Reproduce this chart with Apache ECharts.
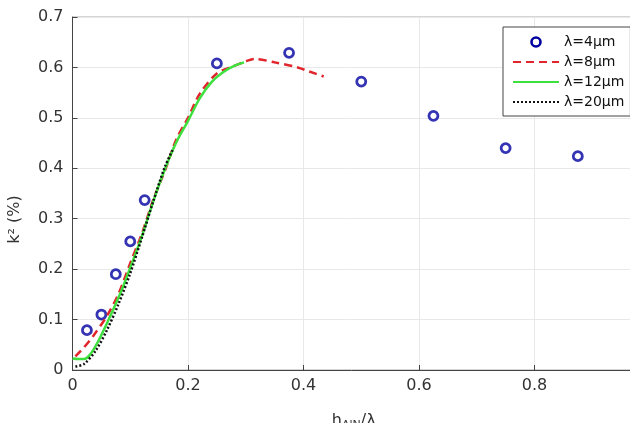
<!DOCTYPE html>
<html>
<head>
<meta charset="utf-8">
<script src="https://cdn.jsdelivr.net/npm/echarts@6/dist/echarts.min.js"></script>
<style>html,body{margin:0;padding:0;background:#fff;}#c{width:630px;height:423px;}</style>
</head>
<body>
<div id="c"></div>
<script>
// λ = 4 µm (circles)
const x4 = [0.025, 0.05, 0.075, 0.1, 0.125, 0.25, 0.375, 0.5, 0.625, 0.75, 0.875];
const y4 = [0.079, 0.110, 0.190, 0.255, 0.337, 0.608, 0.629, 0.572, 0.504, 0.440, 0.424];
// λ = 8 µm (red dashed)
const x8 = [0.005, 0.02, 0.035, 0.06, 0.08, 0.1, 0.12, 0.14, 0.16, 0.18, 0.2, 0.22, 0.25, 0.28, 0.3, 0.315, 0.35, 0.39, 0.41, 0.435];
const y8 = [0.027, 0.045, 0.066, 0.108, 0.152, 0.212, 0.27, 0.338, 0.395, 0.458, 0.5, 0.547, 0.588, 0.603, 0.612, 0.617, 0.61, 0.60, 0.592, 0.582];
// λ = 12 µm (green solid)
const x12 = [0, 0.01, 0.02, 0.03, 0.045, 0.065, 0.085, 0.105, 0.12, 0.14, 0.16, 0.18, 0.2, 0.22, 0.24, 0.26, 0.28, 0.297];
const y12 = [0.023, 0.022, 0.022, 0.03, 0.058, 0.106, 0.158, 0.218, 0.265, 0.335, 0.398, 0.452, 0.494, 0.538, 0.57, 0.59, 0.603, 0.61];
// λ = 20 µm (black dotted)
const x20 = [0.005, 0.02, 0.04, 0.06, 0.08, 0.1, 0.12, 0.14, 0.16, 0.175];
const y20 = [0.007, 0.012, 0.038, 0.080, 0.132, 0.192, 0.262, 0.335, 0.403, 0.44];

const names = ['λ=4µm', 'λ=8µm', 'λ=12µm', 'λ=20µm'];
const xTicks = [0, 0.2, 0.4, 0.6, 0.8];

const pairs = (xs, ys) => xs.map((x, i) => [x, ys[i]]);
const FONT = 'DejaVu Sans';
const BLUE = '#0000a0';

const chart = echarts.init(document.getElementById('c'), null, {renderer: 'canvas'});
chart.setOption({
  animation: false,
  backgroundColor: '#fff',
  textStyle: {fontFamily: FONT},
  grid: {left: 72.5, top: 17, right: -5, bottom: 53, containLabel: false, outerBoundsMode: 'none',
         show: true, borderColor: '#aaa', borderWidth: 1, backgroundColor: 'transparent'},
  legend: {
    orient: 'vertical', left: 503, top: 27,
    backgroundColor: '#fff', borderColor: '#444', borderWidth: 1,
    padding: [7, 6, 6, 9], itemWidth: 46, itemHeight: 9, itemGap: 4,
    itemStyle: {opacity: 0},
    textStyle: {fontSize: 14, color: '#111', fontFamily: FONT, lineHeight: 16},
    data: [
      {name: names[0], itemStyle: {opacity: 1, color: '#fff', borderColor: BLUE, borderWidth: 2.6}},
      names[1], names[2], names[3]
    ]
  },
  xAxis: {
    type: 'value', min: 0, max: 0.974,
    name: '{a|h}{b|AlN}{a|/λ}', nameLocation: 'middle', nameGap: 40,
    nameTextStyle: {rich: {a: {fontSize: 16, color: '#333', fontFamily: FONT}, b: {fontSize: 11, color: '#333', fontFamily: FONT, padding: [10, 0, 0, 0]}}},
    axisLine: {lineStyle: {color: '#444', width: 1}},
    axisTick: {inside: true, length: 5, customValues: xTicks, lineStyle: {color: '#444'}},
    axisLabel: {customValues: xTicks, fontSize: 16, color: '#333', margin: 8, fontFamily: FONT},
    splitLine: {show: true, lineStyle: {color: '#e8e8e8', width: 1}}
  },
  yAxis: {
    type: 'value', min: 0, max: 0.7, interval: 0.1,
    name: 'k² (%)', nameLocation: 'middle', nameGap: 50,
    nameTextStyle: {fontSize: 16, color: '#333', fontFamily: FONT, padding: [0, 52, 0, 0]},
    axisLine: {show: true, lineStyle: {color: '#444', width: 1}},
    axisTick: {show: true, inside: true, length: 5, lineStyle: {color: '#444'}},
    axisLabel: {fontSize: 16, color: '#333', margin: 9, fontFamily: FONT},
    splitLine: {show: true, lineStyle: {color: '#e8e8e8', width: 1}}
  },
  series: [
    {name: names[0], type: 'scatter', data: pairs(x4, y4), symbol: 'circle', symbolSize: 9,
     itemStyle: {color: '#fff', borderColor: BLUE, borderWidth: 2.8}},
    {name: names[1], type: 'line', data: pairs(x8, y8), symbol: 'none', smooth: 0.3,
     lineStyle: {color: '#e0262c', width: 2.5, type: [8, 5]}, itemStyle: {color: '#e0262c'}},
    {name: names[2], type: 'line', data: pairs(x12, y12), symbol: 'none', smooth: 0.3,
     lineStyle: {color: '#3ee03e', width: 2.5}, itemStyle: {color: '#3ee03e'}},
    {name: names[3], type: 'line', data: pairs(x20, y20), symbol: 'none', smooth: 0.3,
     lineStyle: {color: '#111', width: 2.5, type: [2, 2]}, itemStyle: {color: '#111'}}
  ]
});
</script>
</body>
</html>
